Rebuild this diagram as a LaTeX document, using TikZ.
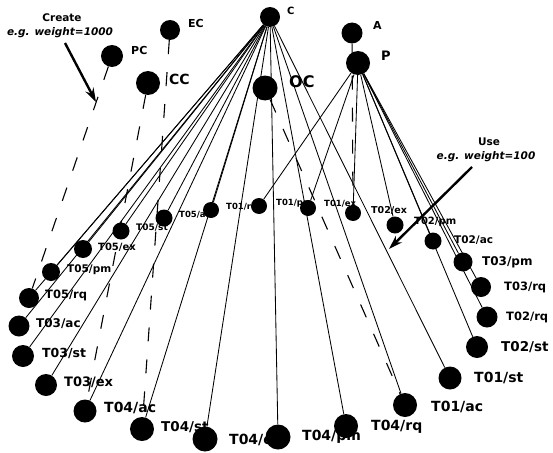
\documentclass[tikz,border=0pt]{standalone}
\usepackage{fontspec}
\setmainfont{DejaVu Sans}
\usetikzlibrary{arrows.meta}
\pgfdeclarelayer{edges}
\pgfdeclarelayer{labels}
\pgfsetlayers{edges,labels,main}
\tikzset{
  vert/.style={circle, fill=black, draw=none, inner sep=0pt, minimum size=#1},
  lbl/.style={anchor=west, inner sep=0pt, font=\bfseries\fontsize{#1}{#1}\selectfont},
  edge/.style={line width=0.85pt, black},
  weak/.style={line width=1.1pt, black, dash pattern=on 14pt off 18pt},
  callout/.style={line width=2.4pt, -{Stealth[length=14pt,width=9pt]}},
  note/.style={inner sep=0pt, font=\bfseries\fontsize{10.5}{12}\selectfont},
  notei/.style={inner sep=0pt, font=\bfseries\itshape\fontsize{10.5}{12}\selectfont},
}
\newcommand\vtx[8]{%
  \node[vert=#4] (#1) at (#2,#3) {};
  \begin{pgfonlayer}{labels}
    \node[lbl=#7] (#1-l) at (#5,#6) {#8};
  \end{pgfonlayer}
}
\begin{document}
\begin{tikzpicture}[x=1pt,y=-1pt]
\useasboundingbox (0,0) rectangle (553,452);
% top nodes
\vtx{C}{270}{17}{20}{287}{11}{10}{C}
\vtx{A}{352}{33}{21}{373}{25}{11}{A}
\vtx{P}{358}{63}{24}{381}{56}{13}{P}
\vtx{EC}{170}{30}{20}{188}{23}{11}{EC}
\vtx{PC}{112}{56}{22}{131}{50}{11}{PC}
\vtx{CC}{148}{83}{24}{169}{79}{14}{CC}
\vtx{OC}{265}{88}{25}{289}{82}{16}{OC}
% task nodes
\vtx{t5rq}{29}{298}{20}{45}{295}{11.5}{T05/rq}
\vtx{t5pm}{51}{272}{18}{67}{270}{10.5}{T05/pm}
\vtx{t5ex}{83}{249}{18}{98}{247}{10}{T05/ex}
\vtx{t5st}{121}{231}{17}{136}{228}{9}{T05/st}
\vtx{t5ac}{164}{218}{17}{179}{215}{8.5}{T05/ac}
\vtx{t1rq}{211}{210}{16}{226}{207}{8.5}{T01/rq}
\vtx{t1pm}{259}{206}{16}{276}{203}{8.5}{T01/pm}
\vtx{t1ex}{308}{208}{16}{324}{204}{8.5}{T01/ex}
\vtx{t2ex}{353}{213}{16}{371}{210}{9.5}{T02/ex}
\vtx{t2pm}{395}{225}{17}{414}{222}{10}{T02/pm}
\vtx{t2ac}{433}{241}{17}{454}{240}{10.5}{T02/ac}
\vtx{t3pm}{463}{262}{19}{482}{262}{12}{T03/pm}
\vtx{t3rq}{481}{287}{20}{504}{287}{11.5}{T03/rq}
\vtx{t2rq}{487}{317}{21}{506}{317}{11.5}{T02/rq}
\vtx{t2st}{477}{347}{22}{501}{347}{13.5}{T02/st}
\vtx{t1st}{450}{378}{23}{474}{378}{14}{T01/st}
\vtx{t1ac}{405}{405}{24}{431}{407}{14}{T01/ac}
\vtx{t4rq}{346}{426}{24}{371}{427}{14}{T04/rq}
\vtx{t4pm}{278}{437}{25}{302}{437}{14}{T04/pm}
\vtx{t4ex}{205}{439}{25}{229}{440}{14}{T04/ex}
\vtx{t4st}{142}{429}{24}{161}{427}{13.5}{T04/st}
\vtx{t4ac}{85}{411}{23}{104}{408}{14}{T04/ac}
\vtx{t3ex}{46}{385}{22}{64}{382}{13}{T03/ex}
\vtx{t3st}{23}{356}{22}{42}{353}{12.5}{T03/st}
\vtx{t3ac}{19}{326}{21}{36}{324}{12}{T03/ac}
% notes
\node[note] (create) at (62,18) {Create};
\node[notei] (createw) at (60,33) {e.g. weight=1000};
\node[note] (use) at (489,142) {Use};
\node[notei] (usew) at (486,157) {e.g. weight=100};
\coordinate (ca) at (65,43);
\coordinate (cb) at (96,102);
\coordinate (ua) at (472,167);
\coordinate (ub) at (389,249);
\begin{pgfonlayer}{edges}
  \foreach \t in {t5rq,t5pm,t5ex,t5st,t5ac,t1rq,t3ac,t3st,t3ex,t4ac,t4st,t4ex,t4pm,t4rq,t1ac,t1st}
    \draw[edge] (C) -- (\t);
  \foreach \t in {t1pm,t1ex,t2ex,t2pm,t2ac,t3pm,t3rq,t2rq,t2st}
    \draw[edge] (P) -- (\t);
  \draw[weak] (PC) -- (t5rq);
  \draw[weak] (CC) -- (t4ac);
  \draw[weak] (EC) -- (t4st);
  \draw[weak] (OC) -- (t1ac);
  \draw[weak] (A) -- (t2ex);
\end{pgfonlayer}
\draw[callout] (ca) -- (cb);
\draw[callout] (ua) -- (ub);
\end{tikzpicture}
\end{document}
